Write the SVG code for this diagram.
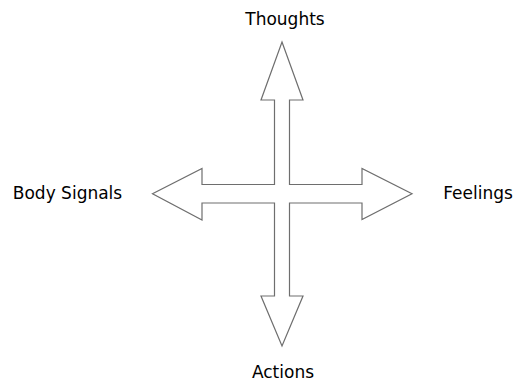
<svg xmlns="http://www.w3.org/2000/svg" width="518" height="383" viewBox="0 0 518 383">
<style>
.lbl{font-family:"DejaVu Sans","Liberation Sans",sans-serif;font-size:17px;fill:#000;text-anchor:middle}
.arrow{fill:#fff;stroke:#6e6e6e;stroke-width:1.2;stroke-linejoin:miter}
</style>
<rect width="518" height="383" fill="#fff"/>
<g id="connectors">
<polygon class="arrow" points="282,42 303,100 289.5,100 289.5,184.5 362,184.5 362,168.5 412,193.7 362,219.5 362,203 289.5,203 289.5,296 303,296 282,346 261,296 274.5,296 274.5,203 202,203 202,220 152.5,193.7 202,168.5 202,184.5 274.5,184.5 274.5,100 261,100"/>
</g>
<g id="thoughts"><text class="lbl" x="285" y="25">Thoughts</text></g>
<g id="body-signals"><text class="lbl" x="67.5" y="199">Body Signals</text></g>
<g id="feelings"><text class="lbl" x="478" y="199">Feelings</text></g>
<g id="actions"><text class="lbl" x="283" y="378">Actions</text></g>
</svg>
